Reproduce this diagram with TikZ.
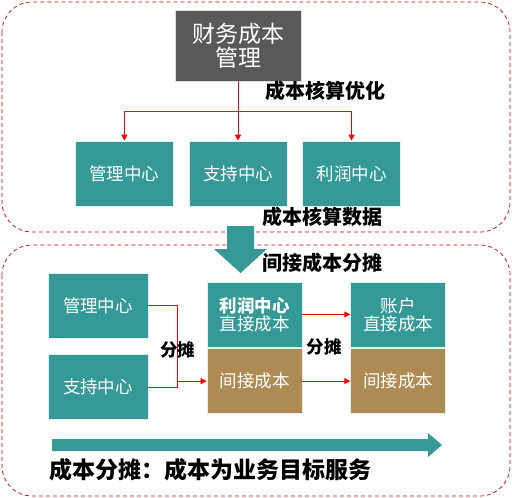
\documentclass[tikz,border=0pt]{standalone}
\usepackage{fontspec}
\setmainfont{Noto Sans CJK SC}
\usetikzlibrary{arrows.meta, positioning}
\definecolor{myteal}{RGB}{52,153,151}
\definecolor{mybrown}{RGB}{175,139,84}
\definecolor{mygray}{RGB}{89,89,89}
\definecolor{myred}{RGB}{255,0,0}
\definecolor{myframe}{RGB}{204,0,0}

\begin{document}
\begin{tikzpicture}[x=1pt, y=-1pt,
  box/.style={fill=myteal, draw=white!85!myteal, line width=0.6pt, text=white, minimum width=98pt, minimum height=65pt, inner sep=1pt, align=center, font=\fontsize{17.5}{18}\selectfont},
  costbox/.style={box, minimum width=95pt},
  tag/.style={font=\bfseries\fontsize{20}{22}\selectfont},
  redline/.style={draw=myred, line width=0.9pt},
  redarrow/.style={redline, -{Triangle[length=6pt, width=6pt]}},
  frame/.style={draw=myframe, dash pattern=on 4pt off 3pt, line width=0.7pt, rounded corners=30pt}]
\useasboundingbox (0,0) rectangle (512,498);
\draw[frame] (2,2) rectangle (510,232);
\draw[frame] (2,245) rectangle (510,496);

\node[fill=mygray, draw=white!80!mygray, text=white, minimum width=126pt, minimum height=71pt, align=center, font=\fontsize{23}{24}\selectfont] (cwgl) at (238,45.5) {财务成本\\管理};
\node[box] (zczx) at (238,173.5) {支持中心};
\node[box, left=15pt of zczx] (glzx) {管理中心};
\node[box, right=15pt of zczx] (lrzx) {利润中心};
\coordinate (split) at (238,111);
\draw[redarrow] (cwgl) -- (zczx);
\draw[redarrow] (split) -| (glzx);
\draw[redarrow] (split) -| (lrzx);
\node[tag] (hsyh) at (325,91) {成本核算优化};
\node[tag] (hssj) at (322,217) {成本核算数据};

\fill[myteal] (227,226) -- (254,226) -- (254,249) -- (267,249) -- (240.5,273) -- (214,249) -- (227,249) -- cycle;
\node[tag] (jjft) at (322,263) {间接成本分摊};

\node[box, minimum width=100pt] (bgl) at (98,305.5) {管理中心};
\node[box, minimum width=100pt, below=16pt of bgl] (bzc) {支持中心};
\node[costbox] (lrzj) at (254.5,314.5) {\textbf{利润中心}\\直接成本};
\node[costbox, fill=mybrown, below=1pt of lrzj] (lrjj) {间接成本};
\node[costbox, right=48pt of lrzj] (zhzj) {账户\\直接成本};
\node[costbox, fill=mybrown, below=1pt of zhzj] (zhjj) {间接成本};

\coordinate (fork) at (177,0);
\draw[redline] (bgl.east) -| (fork |- bzc.east) -- (bzc.east);
\draw[redarrow] (fork |- lrjj.west) -- (lrjj.west);
\draw[redarrow] (lrzj) -- (zhzj);
\draw[redarrow] (lrjj) -- (zhjj);
\node[tag, font=\bfseries\fontsize{17.5}{19}\selectfont] (ftl) at (177.5,350) {分摊};
\node[tag, font=\bfseries\fontsize{17.5}{19}\selectfont] (ftr) at (324,347) {分摊};

\fill[myteal] (52,439) -- (428,439) -- (428,433) -- (442,445) -- (428,457) -- (428,451) -- (52,451) -- cycle;
\node[font=\bfseries\fontsize{23}{25}\selectfont] (fwmb) at (210.5,470) {成本分摊：成本为业务目标服务};
\end{tikzpicture}
\end{document}
